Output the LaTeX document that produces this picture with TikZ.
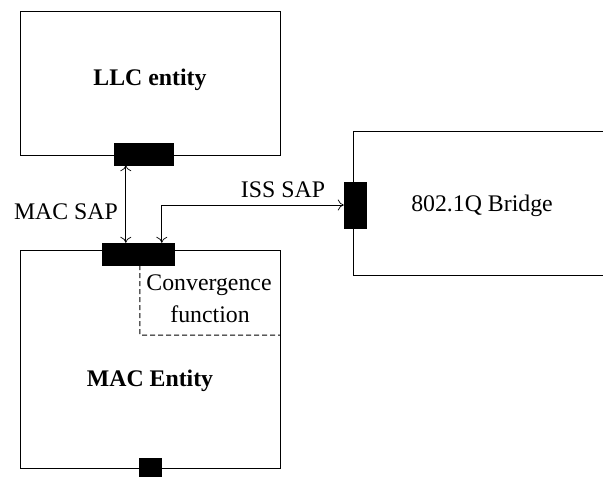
\documentclass[tikz,border=0pt]{standalone}
\usepackage{fontspec}
\setmainfont{Liberation Serif}
\usetikzlibrary{arrows.meta}
\begin{document}
\begin{tikzpicture}[x=1pt,y=-1pt,
  box/.style={draw, line width=0.9pt, inner sep=0pt},
  sap/.style={fill=black, draw=black, inner sep=0pt},
  lbl/.style={font=\fontsize{23.8}{28}\selectfont, inner sep=0pt},
  blbl/.style={font=\fontsize{23.8}{28}\selectfont\bfseries, inner sep=0pt},
  dbl/.style={line width=0.7pt, {To[length=6pt,width=11pt]}-{To[length=6pt,width=11pt]}}]
\useasboundingbox (0,0) rectangle (603,477);
% LLC entity
\node[box, minimum width=260pt, minimum height=144pt] (llc) at (150,83) {};
\node[blbl] (llctext) at (150,80) {LLC entity};
\node[sap, minimum width=59pt, minimum height=22pt] (llcsap) at (143.5,154) {};
% MAC entity
\node[box, minimum width=260pt, minimum height=218pt] (mac) at (150,359) {};
\node[blbl] (mactext) at (150,381) {MAC Entity};
\node[sap, minimum width=72pt, minimum height=22pt] (macsap) at (138,254) {};
\node[sap, minimum width=22pt, minimum height=20pt] (botsap) at (150,468) {};
% Bridge
\coordinate (btr) at (604,131);
\coordinate (bbr) at (604,275);
\draw[line width=0.9pt] (btr) -- (353,131) -- (353,275) -- (bbr);
\node[lbl] (bridgetext) at (482,206) {802.1Q Bridge};
\node[sap, minimum width=22pt, minimum height=46pt] (bsap) at (355,205) {};
% Connectors
\draw[dbl] ([xshift=24pt]macsap.north west |- llcsap.south) -- ([xshift=24pt]macsap.north west);
\draw[dbl] ([xshift=60pt]macsap.north west) |- (bsap.west);
\node[lbl] (macsaplbl) at (66,212) {MAC SAP};
\node[lbl] (isssaplbl) at (283,190) {ISS SAP};
% Convergence function
\coordinate (dcorner) at (140,335);
\draw[line width=1pt, dash pattern=on 5pt off 3pt] ([xshift=38pt]macsap.south west) -- (dcorner) -- (dcorner -| mac.east);
\node[lbl] (conv1) at (209,285) {Convergence};
\node[lbl] (conv2) at (210,314) {function};
\end{tikzpicture}
\end{document}
